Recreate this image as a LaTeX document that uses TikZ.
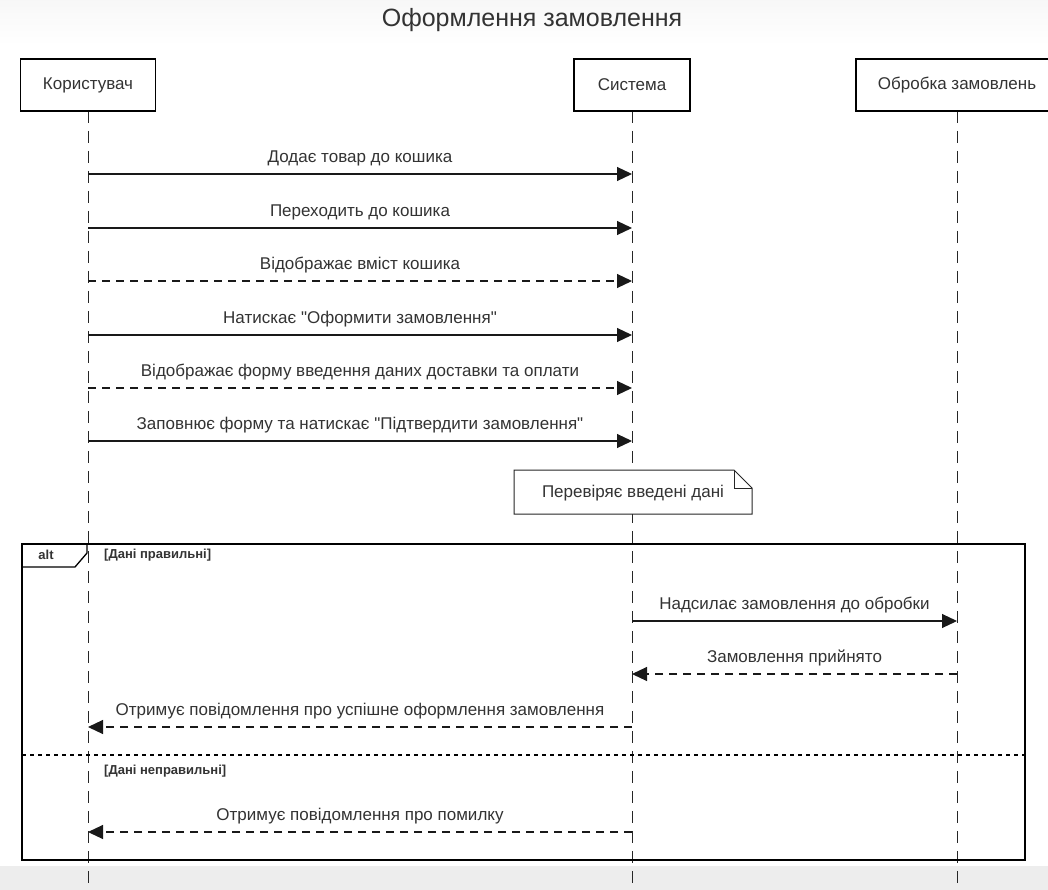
\documentclass[tikz,border=0pt]{standalone}
\usepackage{fontspec}
\setmainfont{Liberation Sans}[Ligatures=TeXOff]
\usetikzlibrary{arrows.meta}
\definecolor{txt}{HTML}{333333}
\definecolor{band}{HTML}{EDEDED}
\tikzset{
  actor/.style={draw=black, line width=1.7pt, fill=white, minimum height=52pt, inner sep=0pt, font=\fontsize{17}{20}\selectfont, text=txt},
  life/.style={draw=black!85, line width=1pt, dash pattern=on 12pt off 8pt},
  msg/.style={draw=black!90, line width=1.1pt, -{Triangle[length=15pt,width=14pt]}},
  ret/.style={msg, dash pattern=on 8pt off 6pt},
  lbl/.style={font=\fontsize{17}{20}\selectfont, text=txt, inner sep=0pt},
  cond/.style={font=\bfseries\fontsize{13}{15}\selectfont, text=txt, inner sep=0pt, anchor=west},
  frameline/.style={draw=black, line width=1.8pt},
}
\begin{document}
\begin{tikzpicture}[x=1pt,y=-1pt]
\useasboundingbox (0,0) rectangle (1048,890);
\fill[white] (0,0) rectangle (1048,890);
\shade[top color=black!3, bottom color=white] (0,0) rectangle (1048,45);
\fill[band] (0,866) rectangle (1048,890);
% title
\node[font=\fontsize{25}{30}\selectfont, text=txt] (title) at (532,20) {Оформлення замовлення};
% lifelines end coordinates
\coordinate (uend) at (88,890);
\coordinate (send) at (632,890);
\coordinate (pend) at (957,890);
\draw[life] (88,111) -- (uend);
\draw[life] (632,111) -- (send);
\draw[life] (957,111) -- (pend);
% actors
\node[actor, minimum width=135pt] (u) at (88,85) {Користувач};
\node[actor, minimum width=116pt] (s) at (632,85) {Система};
\node[actor, minimum width=202pt] (p) at (957,85) {Обробка замовлень};
% message anchors
\foreach \i/\y in {1/174,2/228,3/281,4/335,5/388,6/441,7/621,8/674,9/727,10/832}{
  \coordinate (u\i) at (88,\y);
  \coordinate (s\i) at (632,\y);
  \coordinate (p\i) at (957,\y);
}
\draw[msg] (u1) -- node[lbl, yshift=16pt] (m1) {Додає товар до кошика} (s1);
\draw[msg] (u2) -- node[lbl, yshift=16pt] (m2) {Переходить до кошика} (s2);
\draw[ret] (u3) -- node[lbl, yshift=16pt] (m3) {Відображає вміст кошика} (s3);
\draw[msg] (u4) -- node[lbl, yshift=16pt] (m4) {Натискає "Оформити замовлення"} (s4);
\draw[ret] (u5) -- node[lbl, yshift=16pt] (m5) {Відображає форму введення даних доставки та оплати} (s5);
\draw[msg] (u6) -- node[lbl, yshift=16pt] (m6) {Заповнює форму та натискає "Підтвердити замовлення"} (s6);
% note
\fill[white] (514,470) rectangle (752,514);
\draw[line width=1pt, black!85] (514,470) -- (734,470) -- (752,488) -- (752,514) -- (514,514) -- cycle;
\draw[line width=1pt, black!85] (734,470) -- (734,488) -- (752,488);
\node[lbl] (note) at (633,493) {Перевіряє введені дані};
% alt frame
\draw[frameline] (22,544) rectangle (1025,860);
\draw[line width=1.3pt] (22,567) -- (75,567) -- (87,553) -- (87,544);
\node[font=\bfseries\fontsize{13}{15}\selectfont, text=txt] (alt) at (46,555) {alt};
\node[cond] (c1) at (104,555) {[Дані правильні]};
\draw[line width=1.6pt, dash pattern=on 4pt off 4pt] (22,755) -- (1025,755);
\node[cond] (c2) at (104,771) {[Дані неправильні]};
% alt messages
\draw[msg] (s7) -- node[lbl, yshift=16pt] (m7) {Надсилає замовлення до обробки} (p7);
\draw[ret] (p8) -- node[lbl, yshift=16pt] (m8) {Замовлення прийнято} (s8);
\draw[ret] (s9) -- node[lbl, yshift=16pt] (m9) {Отримує повідомлення про успішне оформлення замовлення} (u9);
\draw[ret] (s10) -- node[lbl, yshift=16pt] (m10) {Отримує повідомлення про помилку} (u10);
\end{tikzpicture}
\end{document}
